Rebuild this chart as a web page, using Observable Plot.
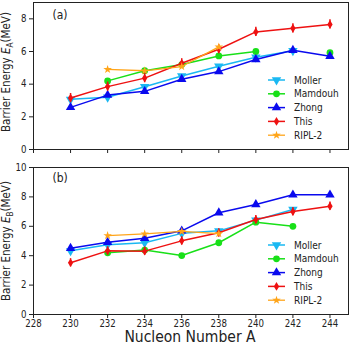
<!DOCTYPE html>
<html><head><meta charset="utf-8">
<script src="https://cdn.jsdelivr.net/npm/d3@7"></script>
<script src="https://cdn.jsdelivr.net/npm/@observablehq/plot@0.6"></script>
<style>
body{margin:0;background:#fff;}
#wrap{position:relative;width:350px;height:345px;overflow:hidden;font-family:"DejaVu Sans Condensed","Liberation Sans",sans-serif;color:#222;}
#wrap svg{display:block}
.lab{position:absolute;white-space:nowrap;color:#222;line-height:1}
</style></head><body><div id="wrap"></div>
<script>
// ---- data ----
const nucleonA = [230, 232, 234, 236, 238, 240, 242, 244];
const seriesNames = ["Moller", "Mamdouh", "Zhong", "This", "RIPL-2"];
// Panel (a): barrier E_A (MeV)
const mollerA  = [3.07, 3.20, 3.84, 4.50, 5.10, 5.65, 6.05, null];
const mamdouhA = [null, 4.20, 4.82, 5.20, 5.73, 6.00, null, 5.93];
const zhongA   = [2.58, 3.33, 3.56, 4.30, 4.77, 5.51, 6.08, 5.71];
const thisA    = [3.15, 3.85, 4.37, 5.28, 6.14, 7.20, 7.42, 7.66];
const riplA    = [null, 4.90, 4.82, 5.08, 6.28, null, null, null];
// Panel (b): barrier E_B (MeV)
const mollerB  = [4.33, 4.74, 4.88, 5.52, 5.69, 6.42, 7.14, null];
const mamdouhB = [null, 4.20, 4.38, 4.01, 4.88, 6.28, 6.00, null];
const zhongB   = [4.51, 4.92, 5.19, 5.69, 6.92, 7.48, 8.14, 8.14];
const thisB    = [3.52, 4.33, 4.31, 5.01, 5.56, 6.46, 7.00, 7.37];
const riplB    = [null, 5.37, 5.49, 5.65, 5.50, null, null, null];
const thisErr  = 0.28;
const xTicks = [228, 230, 232, 234, 236, 238, 240, 242, 244];
const yTicksA = [0, 2, 4, 6, 8];
const yTicksB = [0, 2, 4, 6, 8, 10];

// ---- styles ----
const colors = {"Moller": "#1ab8f2", "Mamdouh": "#18e018", "Zhong": "#0a0aee", "This": "#ee1111", "RIPL-2": "#ffa51a"};
const widths = {"Moller": 1.5, "Mamdouh": 1.5, "Zhong": 1.5, "This": 1.5, "RIPL-2": 1.3};
const thinDiamond = {
  draw(ctx, size) {
    const s = Math.sqrt(size), hh = s * 0.68, hw = s * 0.42;
    ctx.moveTo(0, -hh); ctx.lineTo(hw, 0); ctx.lineTo(0, hh); ctx.lineTo(-hw, 0); ctx.closePath();
  }
};
const symbols = {"Moller": d3.symbolTriangle, "Mamdouh": d3.symbolCircle, "Zhong": d3.symbolTriangle, "This": thinDiamond, "RIPL-2": d3.symbolStar};
const rot = {"Moller": 180, "Mamdouh": 0, "Zhong": 0, "This": 0, "RIPL-2": 0};
const radius = {"Moller": 3.5, "Mamdouh": 3.4, "Zhong": 3.5, "This": 3.6, "RIPL-2": 2.7};

function rowsOf(name, vals) { return nucleonA.map((a, i) => ({A: a, E: vals[i], name})); }

function panel(data, yMax, yTicks, height, mt, mb, showXLabels, tag, tagDy) {
  const marks = [Plot.frame({stroke: "#222", strokeWidth: 1})];
  for (const [name, vals] of data) {
    const rows = rowsOf(name, vals);
    marks.push(Plot.line(rows, {x: "A", y: "E", stroke: colors[name], strokeWidth: widths[name]}));
    if (name === "This") {
      marks.push(Plot.ruleX(rows.filter(d => d.E != null), {x: "A", y1: d => d.E - thisErr, y2: d => d.E + thisErr, stroke: colors[name], strokeWidth: 1.5}));
    }
    marks.push(Plot.dot(rows.filter(d => d.E != null), {x: "A", y: "E", symbol: symbols[name], fill: colors[name], stroke: "none", r: radius[name], rotate: rot[name]}));
  }
  marks.push(Plot.axisY({ticks: yTicks, tickSize: 4, tickPadding: 3, label: null}));
  marks.push(Plot.axisX({ticks: xTicks, tickSize: 4, tickPadding: 2, label: null,
    tickFormat: showXLabels ? (d => String(d)) : (() => "")}));
  marks.push(Plot.text([tag], {text: d => d, frameAnchor: "top-left", textAnchor: "start", lineAnchor: "middle", dx: 19, dy: tagDy, fontSize: 12}));
  return Plot.plot({
    width: 350, height, marginLeft: 33, marginRight: 2, marginTop: mt, marginBottom: mb,
    x: {domain: [228, 245], axis: null},
    y: {domain: [0, yMax], axis: null},
    style: {fontSize: "9.6px", fontFamily: "'DejaVu Sans Condensed','Liberation Sans',sans-serif", color: "#222", background: "#fff"},
    marks
  });
}

const wrap = document.getElementById("wrap");
const pa = panel([["Moller", mollerA], ["Mamdouh", mamdouhA], ["Zhong", zhongA], ["This", thisA], ["RIPL-2", riplA]],
  9, yTicksA, 160, 2, 11, false, "(a)", 13);
const pb = panel([["Moller", mollerB], ["Mamdouh", mamdouhB], ["Zhong", zhongB], ["This", thisB], ["RIPL-2", riplB]],
  10, yTicksB, 185, 7, 31, true, "(b)", 11);
wrap.appendChild(pa);
wrap.appendChild(pb);

// legends
function legend(top) {
  const svg = d3.select(wrap).append("svg").attr("width", 90).attr("height", 70)
    .style("position", "absolute").style("left", "262px").style("top", (top - 7) + "px");
  seriesNames.forEach((name, i) => {
    const y = 7 + i * 13.8;
    svg.append("line").attr("x1", 6).attr("x2", 23).attr("y1", y).attr("y2", y)
      .attr("stroke", colors[name]).attr("stroke-width", widths[name]);
    const size = Math.PI * radius[name] * radius[name];
    svg.append("path").attr("d", d3.symbol(symbols[name], size)())
      .attr("transform", `translate(14.5,${y}) rotate(${rot[name]})`).attr("fill", colors[name]);
    svg.append("text").attr("x", 32).attr("y", y).attr("dy", "0.35em")
      .attr("font-size", "10px").attr("fill", "#222")
      .attr("font-family", "'DejaVu Sans Condensed','Liberation Sans',sans-serif").text(name);
  });
}
legend(80);
legend(245);

// axis titles
function ylab(cx, cy, sub) {
  const d = document.createElement("div");
  d.className = "lab";
  d.style.left = cx + "px"; d.style.top = cy + "px"; d.style.fontSize = "11.5px";
  d.style.transform = "translate(-50%,-50%) rotate(-90deg)";
  d.innerHTML = `Barrier Energy <i>E</i><sub style="font-size:0.7em">${sub}</sub>(MeV)`;
  wrap.appendChild(d);
}
ylab(8, 72, "A");
ylab(8, 241, "B");
const xl = document.createElement("div");
xl.className = "lab";
xl.style.left = "190px"; xl.style.top = "338px"; xl.style.fontSize = "15.5px";
xl.style.transform = "translate(-50%,-50%)";
xl.textContent = "Nucleon Number A";
wrap.appendChild(xl);
</script>
</body></html>
